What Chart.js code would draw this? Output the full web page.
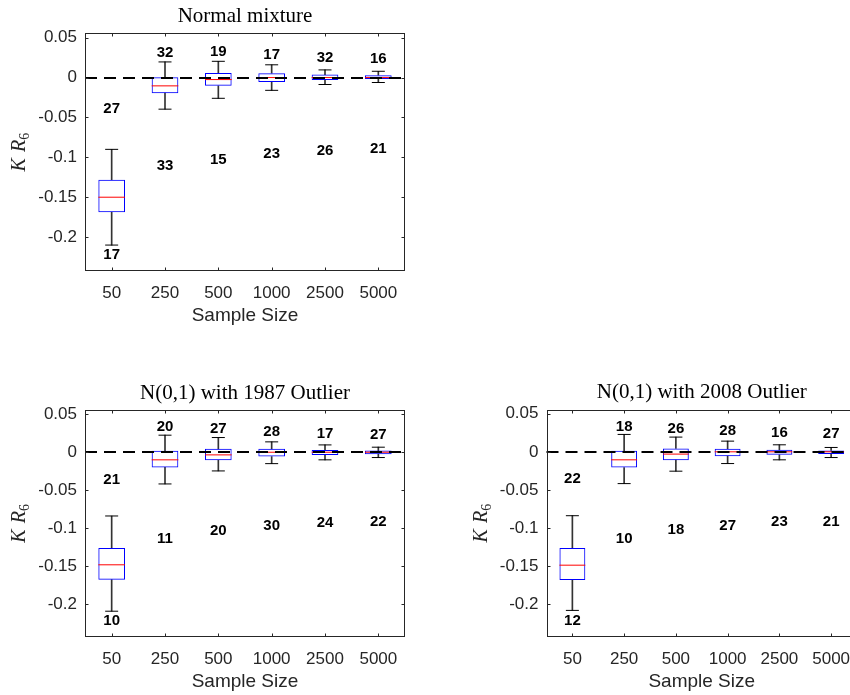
<!DOCTYPE html>
<html>
<head>
<meta charset="utf-8">
<script src="https://cdn.jsdelivr.net/npm/chart.js@4.4.0/dist/chart.umd.min.js"></script>
<style>
  html, body { margin: 0; padding: 0; background: #fff; width: 850px; height: 695px; overflow: hidden; }
  body { position: relative; }
  canvas { position: absolute; }
</style>
</head>
<body>
<canvas id="mixChart" width="430" height="345" style="left:0;top:0"></canvas>
<canvas id="out1987Chart" width="430" height="325" style="left:0;top:370px"></canvas>
<canvas id="out2008Chart" width="440" height="325" style="left:430px;top:370px"></canvas>
<script>
const sampleSizes = ['50', '250', '500', '1000', '2500', '5000'];
const yTicks = [0.05, 0, -0.05, -0.1, -0.15, -0.2];

// Normal mixture
const mixLo     = [-0.210, -0.0396, -0.026, -0.016, -0.0087, -0.0062];
const mixQ1     = [-0.169, -0.0196, -0.0104, -0.0054, -0.0030, -0.0017];
const mixMedian = [-0.150, -0.0104, -0.0025, 0.0000, 0.0000, 0.0000];
const mixQ3     = [-0.128, 0.0005, 0.0058, 0.0054, 0.0037, 0.0030];
const mixHi     = [-0.090, 0.0196, 0.0204, 0.0160, 0.0096, 0.0079];
const mixUpCount = [27, 32, 19, 17, 32, 16];
const mixUpAt    = [-0.039, 0.031, 0.032, 0.028, 0.0246, 0.023];
const mixLowCount = [17, 33, 15, 23, 26, 21];
const mixLowAt    = [-0.222, -0.111, -0.103, -0.096, -0.092, -0.090];

// N(0,1) with 1987 outlier
const o87Lo     = [-0.209, -0.0417, -0.0246, -0.0150, -0.0100, -0.0070];
const o87Q1     = [-0.1675, -0.0200, -0.0105, -0.0057, -0.0035, -0.0026];
const o87Median = [-0.148, -0.0100, -0.0035, 0.0000, 0.0000, 0.0000];
const o87Q3     = [-0.126, 0.0018, 0.0044, 0.0044, 0.0030, 0.0022];
const o87Hi     = [-0.0838, 0.0224, 0.0193, 0.0136, 0.0096, 0.0066];
const o87UpCount = [21, 20, 27, 28, 17, 27];
const o87UpAt    = [-0.036, 0.033, 0.0307, 0.027, 0.0246, 0.023];
const o87LowCount = [10, 11, 20, 30, 24, 22];
const o87LowAt    = [-0.222, -0.1136, -0.103, -0.0965, -0.0925, -0.0917];

// N(0,1) with 2008 outlier
const o08Lo     = [-0.208, -0.0417, -0.0254, -0.0154, -0.0105, -0.0075];
const o08Q1     = [-0.168, -0.0206, -0.0110, -0.0057, -0.0040, -0.0030];
const o08Median = [-0.1487, -0.0105, -0.0030, 0.0000, 0.0000, 0.0000];
const o08Q3     = [-0.126, 0.0013, 0.0044, 0.0040, 0.0026, 0.0018];
const o08Hi     = [-0.0838, 0.0228, 0.0193, 0.0140, 0.0092, 0.0057];
const o08UpCount = [22, 18, 26, 28, 16, 27];
const o08UpAt    = [-0.036, 0.033, 0.0307, 0.027, 0.0246, 0.023];
const o08LowCount = [12, 10, 18, 27, 23, 21];
const o08LowAt    = [-0.222, -0.1136, -0.103, -0.0965, -0.0925, -0.0917];

Chart.defaults.font.family = '"Liberation Sans", Arial, sans-serif';
Chart.defaults.color = '#262626';

const axisColor = '#262626';
const serif = '"Liberation Serif", "Times New Roman", serif';

// frame, inward ticks, zero line, count labels and panel titles
const boxFrame = {
  id: 'boxFrame',
  afterDatasetsDraw(chart, args, opts) {
    const { ctx, chartArea: a, scales: { x, y } } = chart;
    const y0 = Math.round(y.getPixelForValue(0));
    ctx.save();
    ctx.strokeStyle = '#000';
    ctx.lineWidth = 2;
    ctx.setLineDash([12, 7]);
    ctx.beginPath();
    ctx.moveTo(a.left, y0);
    ctx.lineTo(a.right, y0);
    ctx.stroke();
    ctx.restore();

    ctx.save();
    ctx.fillStyle = '#000';
    ctx.font = 'bold 15px "Liberation Sans", Arial, sans-serif';
    ctx.textAlign = 'center';
    ctx.textBaseline = 'middle';
    sampleSizes.forEach((s, i) => {
      const px = x.getPixelForValue(i);
      ctx.fillText(String(opts.upCount[i]), px, y.getPixelForValue(opts.upAt[i]));
      ctx.fillText(String(opts.lowCount[i]), px, y.getPixelForValue(opts.lowAt[i]));
    });
    ctx.restore();
  },
  afterDraw(chart, args, opts) {
    const { ctx, chartArea: a, scales: { x, y } } = chart;
    const L = Math.round(a.left) + 0.5, R = Math.round(a.right) - 0.5;
    const T = Math.round(a.top) + 0.5, B = Math.round(a.bottom) - 0.5;
    ctx.save();
    ctx.strokeStyle = axisColor;
    ctx.lineWidth = 1;
    ctx.strokeRect(L, T, R - L, B - T);
    ctx.beginPath();
    x.ticks.forEach((t, i) => {
      const px = Math.round(x.getPixelForTick(i)) + 0.5;
      ctx.moveTo(px, B); ctx.lineTo(px, B - 3);
      ctx.moveTo(px, T); ctx.lineTo(px, T + 3);
    });
    y.ticks.forEach(t => {
      const py = Math.round(y.getPixelForValue(t.value)) + 0.5;
      ctx.moveTo(L, py); ctx.lineTo(L + 3, py);
      ctx.moveTo(R, py); ctx.lineTo(R - 3, py);
    });
    ctx.stroke();

    const cx = (a.left + a.right) / 2;
    ctx.textAlign = 'center';
    ctx.textBaseline = 'middle';
    ctx.fillStyle = '#000';
    ctx.font = '21px ' + serif;
    ctx.fillText(opts.title, cx, a.top - 17);

    ctx.fillStyle = axisColor;
    ctx.font = '19px "Liberation Sans", Arial, sans-serif';
    ctx.fillText('Sample Size', cx, a.bottom + 45);

    // y label K R_6, rotated
    ctx.translate(a.left - 67, (a.top + a.bottom) / 2);
    ctx.rotate(-Math.PI / 2);
    ctx.textAlign = 'left';
    ctx.textBaseline = 'alphabetic';
    ctx.font = 'italic 20px ' + serif;
    const wK = ctx.measureText('K').width;
    const wR = ctx.measureText('R').width;
    ctx.font = '14px ' + serif;
    const wSub = ctx.measureText('6').width;
    const gap = 6;
    const x0 = -(wK + gap + wR + wSub) / 2;
    ctx.font = 'italic 20px ' + serif;
    ctx.fillText('K', x0, 7);
    ctx.fillText('R', x0 + wK + gap, 7);
    ctx.font = '14px ' + serif;
    ctx.fillText('6', x0 + wK + gap + wR, 11);
    ctx.restore();
  }
};

const halfBox = c => c.chart.scales.x.width / sampleSizes.length / 4;

function boxChart(id, area, title, lo, q1, med, q3, hi, upCount, upAt, lowCount, lowAt) {
  const ctx = document.getElementById(id);
  const xHeight = 40;
  return new Chart(ctx, {
    data: {
      labels: sampleSizes,
      datasets: [
        {
          type: 'line',
          data: med,
          showLine: false,
          pointStyle: 'line',
          pointRadius: halfBox,
          pointBorderColor: '#ff0000',
          pointBorderWidth: 1,
          order: 1,
        },
        {
          type: 'line',
          data: hi,
          showLine: false,
          pointStyle: 'line',
          pointRadius: 6.5,
          pointBorderColor: '#000',
          pointBorderWidth: 1,
          order: 2,
        },
        {
          type: 'line',
          data: lo,
          showLine: false,
          pointStyle: 'line',
          pointRadius: 6.5,
          pointBorderColor: '#000',
          pointBorderWidth: 1,
          order: 2,
        },
        {
          type: 'bar',
          data: q1.map((v, i) => [v, q3[i]]),
          backgroundColor: 'rgba(0,0,0,0)',
          borderColor: '#0000ff',
          borderWidth: 1,
          borderSkipped: false,
          barPercentage: 0.5,
          categoryPercentage: 1,
          grouped: false,
          order: 3,
        },
        {
          type: 'bar',
          data: lo.map((v, i) => [v, q1[i]]),
          backgroundColor: '#333',
          barThickness: 1,
          grouped: false,
          order: 4,
        },
        {
          type: 'bar',
          data: q3.map((v, i) => [v, hi[i]]),
          backgroundColor: '#333',
          barThickness: 1,
          grouped: false,
          order: 4,
        },
      ],
    },
    options: {
      responsive: false,
      animation: false,
      events: [],
      layout: { padding: { left: 0, top: area.top, right: area.right, bottom: area.bottom - xHeight } },
      plugins: {
        legend: { display: false },
        tooltip: { enabled: false },
        boxFrame: { title, upCount, upAt, lowCount, lowAt },
      },
      scales: {
        x: {
          type: 'category',
          offset: true,
          grid: { display: false, drawTicks: false, tickLength: 0 },
          border: { display: false },
          ticks: { font: { size: 17 }, color: axisColor, padding: 12, maxRotation: 0, autoSkip: false },
          afterFit: s => { s.height = xHeight; },
        },
        y: {
          min: -0.2425,
          max: 0.0555,
          grid: { display: false, drawTicks: false, tickLength: 0 },
          border: { display: false },
          afterBuildTicks: s => { s.ticks = yTicks.map(v => ({ value: v })); },
          ticks: {
            font: { size: 17 },
            color: axisColor,
            padding: 8,
            callback: v => String(Number(v.toFixed(2))),
          },
          afterFit: s => { s.width = area.left; },
        },
      },
    },
    plugins: [boxFrame],
  });
}

boxChart('mixChart', { left: 85, top: 33.3, right: 25, bottom: 74 }, 'Normal mixture',
  mixLo, mixQ1, mixMedian, mixQ3, mixHi, mixUpCount, mixUpAt, mixLowCount, mixLowAt);
boxChart('out1987Chart', { left: 85, top: 40, right: 25, bottom: 58.3 }, 'N(0,1) with 1987 Outlier',
  o87Lo, o87Q1, o87Median, o87Q3, o87Hi, o87UpCount, o87UpAt, o87LowCount, o87LowAt);
boxChart('out2008Chart', { left: 116.5, top: 39.5, right: 13, bottom: 58.3 }, 'N(0,1) with 2008 Outlier',
  o08Lo, o08Q1, o08Median, o08Q3, o08Hi, o08UpCount, o08UpAt, o08LowCount, o08LowAt);
</script>
</body>
</html>
